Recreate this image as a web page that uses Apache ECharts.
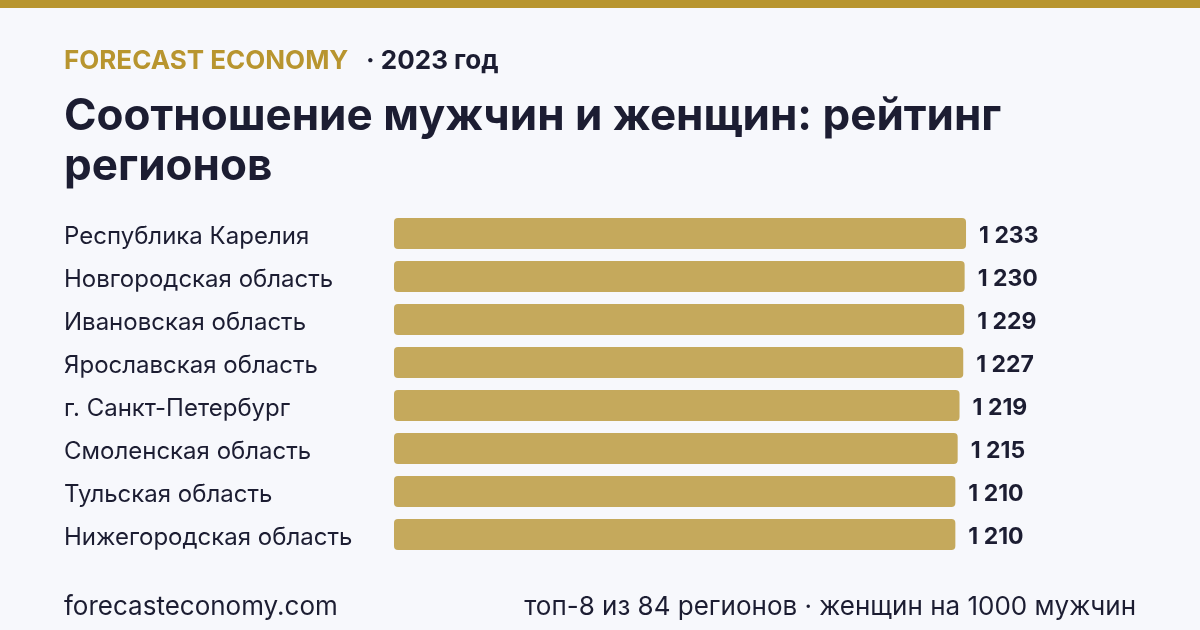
<!DOCTYPE html>
<html><head><meta charset="utf-8">
<script src="https://cdn.jsdelivr.net/npm/echarts@6/dist/echarts.min.js"></script>
<style>html,body{margin:0;padding:0;background:#F7F8FC;}#c{width:1200px;height:630px;}</style>
</head><body><div id="c"></div>
<script>
const regions = ['Республика Карелия','Новгородская область','Ивановская область','Ярославская область','г. Санкт-Петербург','Смоленская область','Тульская область','Нижегородская область'];
const values = [1233,1230,1229,1227,1219,1215,1210,1210];
const brand = 'FORECAST ECONOMY';
const yearText = '· 2023 год';
const titleLines = ['Соотношение мужчин и женщин: рейтинг','регионов'];
const footerLeft = 'forecasteconomy.com';
const footerRight = 'топ-8 из 84 регионов · женщин на 1000 мужчин';

const F = 'Inter, "Noto Sans", sans-serif';
const chart = echarts.init(document.getElementById('c'), null, {renderer:'canvas'});
chart.setOption({
  backgroundColor:'#F7F8FC',
  animation:false,
  graphic:[
    {type:'rect', left:0, top:0, shape:{width:1200,height:8}, style:{fill:'#B8952F'}},
    {type:'text', left:64, top:48, style:{text:brand, font:'bold 26px '+F, fill:'#B8952F'}},
    {type:'text', left:366, top:48, style:{text:yearText, font:'bold 26px '+F, fill:'#1C1D32'}},
    {type:'text', left:64, top:92, style:{text:titleLines.join('\n'), font:'bold 44px '+F, lineHeight:50, fill:'#1C1D32'}},
    {type:'text', left:64, top:594, style:{text:footerLeft, font:'26px '+F, fill:'#1C1D32'}},
    {type:'text', right:64, top:594, style:{text:footerRight, font:'26px '+F, fill:'#1C1D32'}}
  ],
  grid:{left:394, top:212, width:649.5, height:344, containLabel:false},
  xAxis:{type:'value', min:0, max:1400, show:false},
  yAxis:{type:'category', data:regions, inverse:true,
    axisLine:{show:false}, axisTick:{show:false}, splitLine:{show:false},
    axisLabel:{align:'left', margin:330, fontFamily:F, fontSize:24, color:'#1C1D32',
      formatter:v=>'{a|'+v+'}', rich:{a:{fontFamily:F, fontSize:24, color:'#1C1D32', padding:[6,0,0,0]}}}},
  series:[{type:'bar', data:values, barWidth:31,
    itemStyle:{color:'#C5A95C', borderRadius:4},
    label:{show:true, position:'right', distance:13, offset:[0,3], fontFamily:F, fontSize:23, fontWeight:'bold', color:'#1C1D32',
      formatter:p=>{const s=String(p.value);return s.slice(0,s.length-3)+' '+s.slice(-3);}}
  }]
});
</script></body></html>
